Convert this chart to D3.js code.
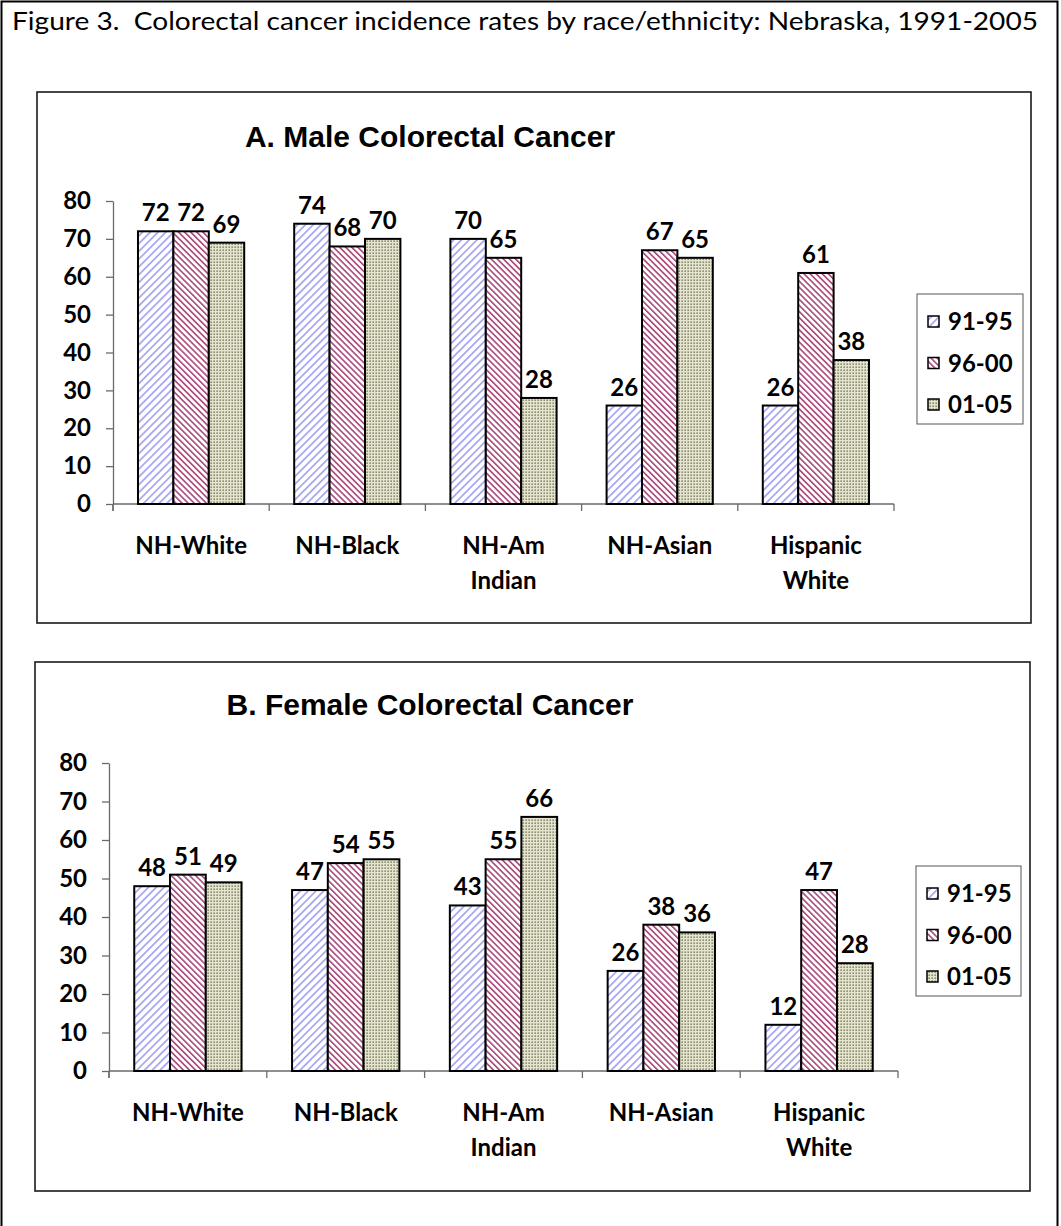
<!DOCTYPE html>
<html>
<head>
<meta charset="utf-8">
<script src="https://cdn.jsdelivr.net/npm/d3@7"></script>
<style>
  html, body { margin: 0; padding: 0; background: #fff; }
  svg text { font-family: Lato, "Open Sans", sans-serif; }
</style>
</head>
<body>
<svg id="fig" width="1061" height="1226"></svg>
<script>
// Colorectal cancer incidence rates (per 100,000) by race/ethnicity, Nebraska
const categories = ["NH-White", "NH-Black", "NH-Am Indian", "NH-Asian", "Hispanic White"];
const categoryLines = [["NH-White"], ["NH-Black"], ["NH-Am", "Indian"], ["NH-Asian"], ["Hispanic", "White"]];
const periods = ["91-95", "96-00", "01-05"];

const male9195 = [72, 74, 70, 26, 26];
const male9600 = [72, 68, 65, 67, 61];
const male0105 = [69, 70, 28, 65, 38];

const female9195 = [48, 47, 43, 26, 12];
const female9600 = [51, 54, 55, 38, 47];
const female0105 = [49, 55, 66, 36, 28];

const yTicks = [0, 10, 20, 30, 40, 50, 60, 70, 80];

const figureTitle = "Figure 3.  Colorectal cancer incidence rates by race/ethnicity: Nebraska, 1991-2005";

const svg = d3.select("#fig");

// ---- fill patterns for the three periods ----
const defs = svg.append("defs");

const pBlue = defs.append("pattern").attr("id", "pat0")
  .attr("patternUnits", "userSpaceOnUse").attr("width", 5.5).attr("height", 5.5)
  .attr("patternTransform", "rotate(45)");
pBlue.append("rect").attr("width", 5.5).attr("height", 5.5).attr("fill", "#ffffff");
pBlue.append("rect").attr("x", 0).attr("width", 1.8).attr("height", 5.5).attr("fill", "#a9a9f2");

const pRed = defs.append("pattern").attr("id", "pat1")
  .attr("patternUnits", "userSpaceOnUse").attr("width", 4.3).attr("height", 4.3)
  .attr("patternTransform", "rotate(-45)");
pRed.append("rect").attr("width", 4.3).attr("height", 4.3).attr("fill", "#ffffff");
pRed.append("rect").attr("x", 0).attr("width", 1.6).attr("height", 4.3).attr("fill", "#a8467a");

const pDot = defs.append("pattern").attr("id", "pat2")
  .attr("patternUnits", "userSpaceOnUse").attr("width", 3).attr("height", 3);
pDot.append("rect").attr("width", 3).attr("height", 3).attr("fill", "#e4e4cf");
pDot.append("rect").attr("x", 0.5).attr("y", 0.5).attr("width", 1.3).attr("height", 1.3).attr("fill", "#5f5f3f");

// ---- outer frame and figure caption ----
svg.append("rect").attr("x", 1.5).attr("y", 1.5).attr("width", 1056).attr("height", 1240)
  .attr("fill", "none").attr("stroke", "#000").attr("stroke-width", 2);

svg.append("text").attr("x", 12).attr("y", 30)
  .attr("font-size", 25).attr("fill", "#000")
  .style("white-space", "pre")
  .attr("textLength", 1026).attr("lengthAdjust", "spacingAndGlyphs")
  .text(figureTitle);

// ---- one panel ----
function drawPanel(cfg) {
  const series = cfg.series;
  const g = svg.append("g");

  // chart border
  g.append("rect").attr("x", cfg.box.x).attr("y", cfg.box.y)
    .attr("width", cfg.box.w).attr("height", cfg.box.h)
    .attr("fill", "#fff").attr("stroke", "#1a1a1a").attr("stroke-width", 1.6);

  // chart title
  g.append("text").attr("x", cfg.titleX).attr("y", cfg.titleY)
    .attr("text-anchor", "middle")
    .style("font-family", "'Liberation Sans', Arial, sans-serif")
    .attr("font-weight", "bold").attr("font-size", 30)
    .text(cfg.title);

  const x = d3.scaleBand().domain(categories).range([cfg.x0, cfg.x1]).padding(0);
  const bw = x.bandwidth();
  const xs = d3.scaleBand().domain(periods).range([bw * 0.16, bw * 0.84]).padding(0);
  const y = d3.scaleLinear().domain([0, 80]).range([cfg.yZero, cfg.yTop]);

  // y axis
  const yAxis = g.append("g").attr("transform", `translate(${cfg.x0},0)`)
    .call(d3.axisLeft(y).tickValues(yTicks).tickSize(7).tickPadding(15).tickSizeOuter(0));
  yAxis.select(".domain").attr("stroke", "#6a6a6a").attr("stroke-width", 1.3);
  yAxis.selectAll(".tick line").attr("stroke", "#6a6a6a").attr("stroke-width", 1.3);
  yAxis.selectAll(".tick text").attr("font-size", 24).attr("font-weight", "bold")
    .attr("fill", "#000").style("font-family", "Lato, sans-serif");
  // y axis continues slightly below zero to meet the category tick row
  g.append("line").attr("x1", cfg.x0).attr("x2", cfg.x0)
    .attr("y1", cfg.yZero).attr("y2", cfg.yZero + 7)
    .attr("stroke", "#6a6a6a").attr("stroke-width", 1.3);

  // x axis line and category boundary ticks
  g.append("line").attr("x1", cfg.x0).attr("x2", cfg.x1)
    .attr("y1", cfg.yZero).attr("y2", cfg.yZero)
    .attr("stroke", "#6a6a6a").attr("stroke-width", 1.3);
  const bounds = categories.map(c => x(c)).concat([x(categories[categories.length - 1]) + bw]);
  g.selectAll(".xtick").data(bounds).join("line").attr("class", "xtick")
    .attr("x1", d => d).attr("x2", d => d)
    .attr("y1", cfg.yZero).attr("y2", cfg.yZero + 7)
    .attr("stroke", "#6a6a6a").attr("stroke-width", 1.3);

  // category labels
  const catG = g.selectAll(".cat").data(categories).join("text").attr("class", "cat")
    .attr("text-anchor", "middle").attr("font-size", 24).attr("font-weight", "bold")
    .attr("fill", "#000");
  catG.each(function (c, i) {
    const t = d3.select(this);
    categoryLines[i].forEach((line, k) => {
      t.append("tspan").attr("x", x(c) + bw / 2).attr("y", cfg.yZero + 50 + k * 35).text(line);
    });
  });

  // bars
  const rows = [];
  categories.forEach((c, i) => {
    periods.forEach((p, j) => rows.push({ c, p, j, v: series[j][i] }));
  });
  const barsG = g.append("g");
  barsG.selectAll("rect").data(rows).join("rect")
    .attr("x", d => x(d.c) + xs(d.p))
    .attr("y", d => y(d.v))
    .attr("width", xs.bandwidth())
    .attr("height", d => y(0) - y(d.v))
    .attr("fill", d => `url(#pat${d.j})`)
    .attr("stroke", "#000").attr("stroke-width", 2);

  // value labels
  g.append("g").selectAll("text").data(rows).join("text")
    .attr("x", d => x(d.c) + xs(d.p) + xs.bandwidth() / 2)
    .attr("y", d => y(d.v) - 10)
    .attr("text-anchor", "middle").attr("font-size", 24).attr("font-weight", "bold")
    .attr("fill", "#000")
    .text(d => d3.format("d")(d.v));

  // legend
  const lg = g.append("g").attr("transform", `translate(${cfg.legend.x},${cfg.legend.y})`);
  lg.append("rect").attr("width", cfg.legend.w).attr("height", cfg.legend.h)
    .attr("fill", "#fff").attr("stroke", "#555").attr("stroke-width", 1);
  const items = lg.selectAll(".item").data(periods).join("g").attr("class", "item")
    .attr("transform", (d, j) => `translate(0,${28 + j * 41.5})`);
  items.append("rect").attr("x", 11).attr("y", -6).attr("width", 11).attr("height", 11)
    .attr("fill", (d, j) => `url(#pat${j})`).attr("stroke", "#000").attr("stroke-width", 1.5);
  items.append("text").attr("x", 31).attr("y", 8)
    .attr("font-size", 24).attr("font-weight", "bold").attr("fill", "#000")
    .text(d => d);
}

drawPanel({
  title: "A. Male Colorectal Cancer",
  series: [male9195, male9600, male0105],
  box: { x: 37, y: 92, w: 994, h: 531 },
  titleX: 430, titleY: 147,
  x0: 113, x1: 894, yTop: 201, yZero: 504,
  legend: { x: 917, y: 294, w: 106, h: 130 }
});

drawPanel({
  title: "B. Female Colorectal Cancer",
  series: [female9195, female9600, female0105],
  box: { x: 35, y: 662, w: 995, h: 529 },
  titleX: 430, titleY: 715,
  x0: 109, x1: 898, yTop: 763, yZero: 1071,
  legend: { x: 916, y: 866, w: 105, h: 130 }
});
</script>
</body>
</html>
